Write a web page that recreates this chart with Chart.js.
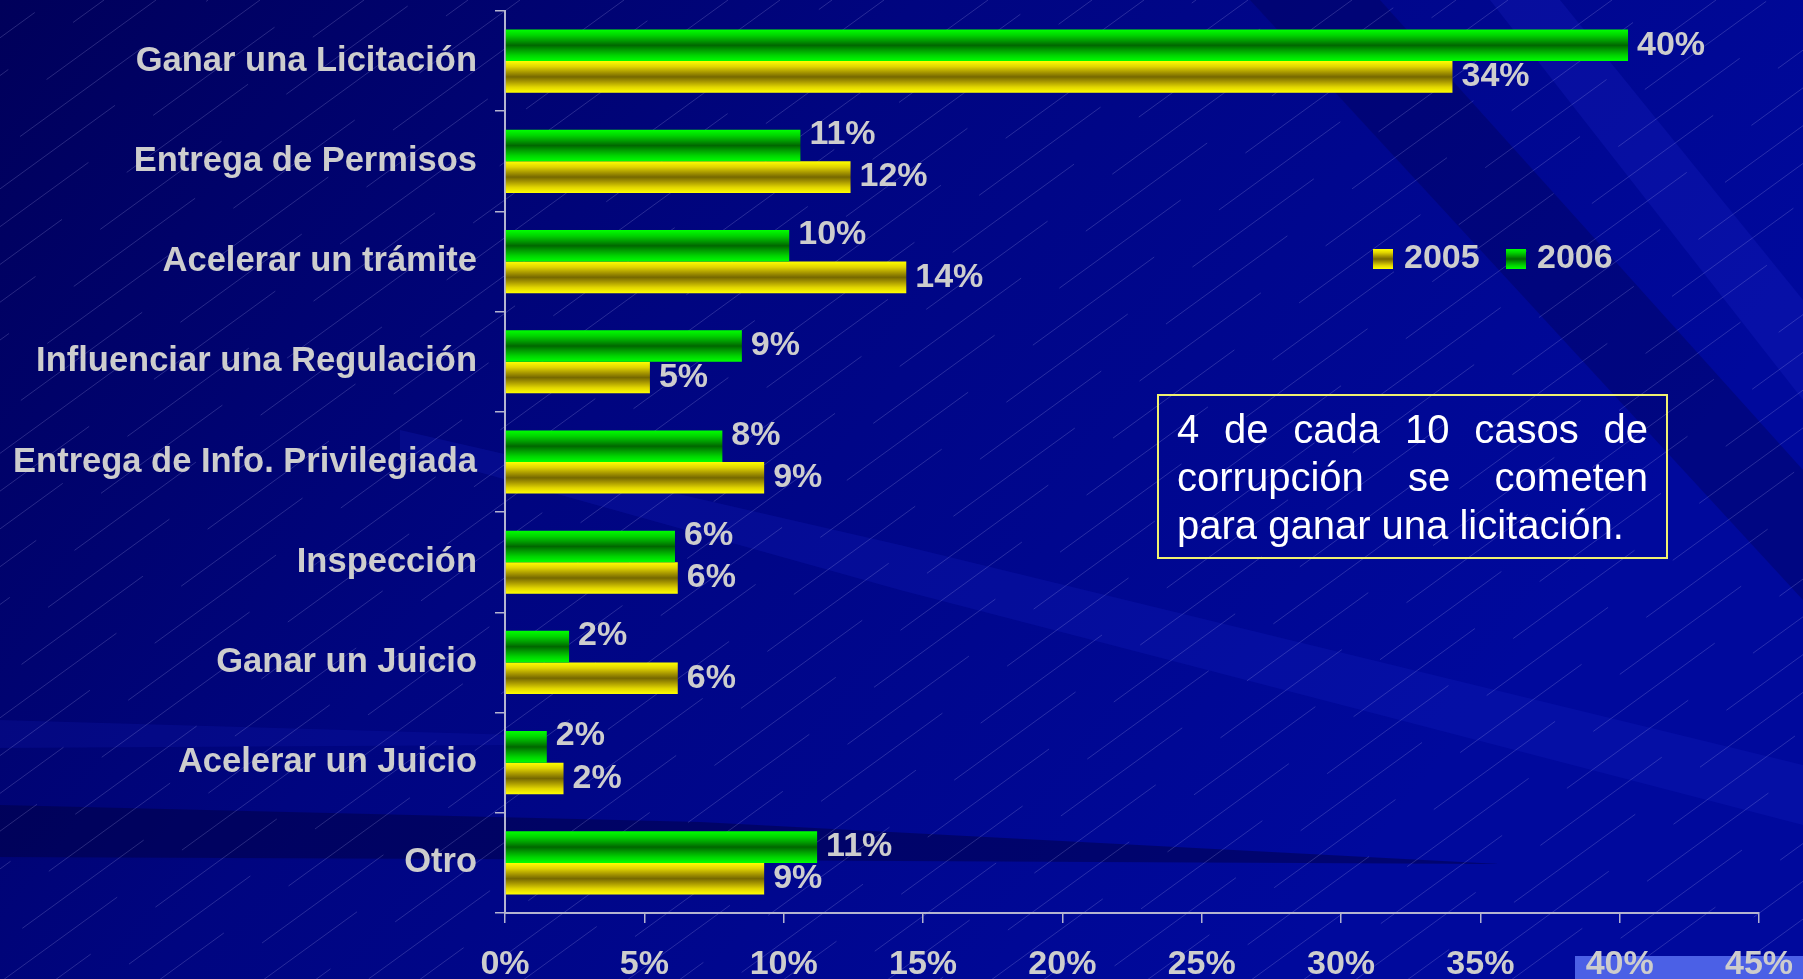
<!DOCTYPE html>
<html lang="es">
<head>
<meta charset="utf-8">
<title>Casos de corrupción 2005 - 2006</title>
<script src="https://cdn.jsdelivr.net/npm/chart.js@4.4.1/dist/chart.umd.min.js"></script>
<style>
  html, body { margin: 0; padding: 0; overflow: hidden; background: #00068a; }
  #wrap { position: relative; width: 1803px; height: 979px; overflow: hidden; }
  #grafico { position: absolute; left: 0; top: 0; }
  #nota {
    position: absolute; left: 1157px; top: 394px;
    box-sizing: border-box; width: 511px; height: 165px;
    padding: 9px 18px; border: 2px solid #f0f070;
    font: 40px/48px "Liberation Sans", Arial, sans-serif;
    color: #ffffff; text-align: justify;
  }
</style>
</head>
<body>
<div id="wrap">
  <canvas id="grafico" width="1803" height="990"></canvas>
  <div id="nota">4 de cada 10 casos de corrupción se cometen para ganar una licitación.</div>
</div>
<script>
const categorias = [
    "Ganar una Licitación",
    "Entrega de Permisos",
    "Acelerar un trámite",
    "Influenciar una Regulación",
    "Entrega de Info. Privilegiada",
    "Inspección",
    "Ganar un Juicio",
    "Acelerar un Juicio",
    "Otro"
];
const valores2006 = [40.3, 10.6, 10.2, 8.5, 7.8, 6.1, 2.3, 1.5, 11.2];
const valores2005 = [34.0, 12.4, 14.4, 5.2, 9.3, 6.2, 6.2, 2.1, 9.3];
const ejeMax = 45;
const ejePaso = 5;

const FUENTE = '"Liberation Sans", Arial, sans-serif';
const TEXTO = "#cdcdcd";
const EJE = "#b4b4d0";
const CAT_PCT = 0.63;

const verdeStops = [[0, "#00ff00"], [0.18, "#00d400"], [0.35, "#009c00"], [0.5, "#006600"], [0.65, "#009c00"], [0.82, "#00d400"], [1, "#00ff00"]];
const amarilloStops = [[0, "#ffff00"], [0.18, "#e0d400"], [0.35, "#a89800"], [0.5, "#766800"], [0.65, "#a89800"], [0.82, "#e0d400"], [1, "#ffff00"]];

function gradiente(ctx, top, alto, stops) {
    const g = ctx.createLinearGradient(0, top, 0, top + alto);
    stops.forEach(s => g.addColorStop(s[0], s[1]));
    return g;
}

// each bar gets its own vertical gradient, like the old PowerPoint fill
function rellenoBarra(stops) {
    return function (context) {
        const chart = context.chart;
        const y = chart.scales.y;
        if (!chart.chartArea || !y) return stops[3][1];
        const grosor = (y.bottom - y.top) / categorias.length * CAT_PCT / 2;
        const centro = y.getPixelForValue(context.dataIndex);
        if (!isFinite(centro)) return stops[3][1];
        const top = context.datasetIndex === 0 ? centro - grosor : centro;
        return gradiente(chart.ctx, top, grosor, stops);
    };
}

const fondo = {
    id: "fondo",
    beforeDraw(chart) {
        const ctx = chart.ctx, w = chart.width, h = chart.height;
        ctx.save();
        const g = ctx.createLinearGradient(0, 0, w * 0.7, h);
        g.addColorStop(0, "#00005a");
        g.addColorStop(0.45, "#000580");
        g.addColorStop(1, "#00099c");
        ctx.fillStyle = g;
        ctx.fillRect(0, 0, w, h);

        const banda = (pts, color) => {
            ctx.beginPath();
            ctx.moveTo(pts[0][0], pts[0][1]);
            pts.slice(1).forEach(p => ctx.lineTo(p[0], p[1]));
            ctx.closePath();
            ctx.fillStyle = color;
            ctx.fill();
        };
        banda([[400, 430], [900, 545], [1803, 765], [1803, 825], [900, 590], [400, 450]], "rgba(25,35,200,0.22)");
        banda([[1250, 0], [1380, 0], [1803, 470], [1803, 600]], "rgba(0,0,70,0.3)");
        banda([[1490, 0], [1560, 0], [1803, 300], [1803, 400]], "rgba(30,40,210,0.22)");
        banda([[0, 805], [700, 822], [1500, 864], [700, 860], [0, 857]], "rgba(0,0,60,0.45)");
        banda([[0, 720], [520, 735], [520, 745], [0, 748]], "rgba(20,30,190,0.2)");

        // thin diagonal hairlines
        ctx.strokeStyle = "rgba(200,200,255,0.2)";
        ctx.lineWidth = 1;
        ctx.setLineDash([150, 80]);
        const dx = h / Math.tan(36 * Math.PI / 180);
        for (let c = -dx, k = 0; c < w; c += 52, k++) {
            ctx.lineDashOffset = (k * 97) % 230;
            ctx.beginPath();
            ctx.moveTo(c, h);
            ctx.lineTo(c + dx, 0);
            ctx.stroke();
        }
        ctx.setLineDash([]);

        ctx.fillStyle = "#4b60e6";
        ctx.fillRect(1575, 956, w - 1575, h - 956);
        ctx.restore();
    }
};

const etiquetas = {
    id: "etiquetas",
    afterDatasetsDraw(chart) {
        const ctx = chart.ctx;
        ctx.save();
        ctx.font = "bold 34px " + FUENTE;
        ctx.fillStyle = TEXTO;
        ctx.textAlign = "left";
        ctx.textBaseline = "middle";
        chart.data.datasets.forEach((ds, i) => {
            chart.getDatasetMeta(i).data.forEach((bar, j) => {
                let dy = 0;
                if (i === 0 && valores2006[j] < valores2005[j]) dy = -11;
                ctx.fillText(Math.round(ds.data[j]) + "%", bar.x + 9, bar.y + dy);
            });
        });
        ctx.restore();
    }
};

const leyenda = {
    id: "leyenda",
    afterDraw(chart) {
        const ctx = chart.ctx;
        const stops = { "2005": amarilloStops, "2006": verdeStops };
        ctx.save();
        ctx.font = "bold 34px " + FUENTE;
        ctx.textAlign = "left";
        ctx.textBaseline = "middle";
        let x = 1373;
        const y = 249;
        [1, 0].forEach(i => {
            const ds = chart.data.datasets[i];
            ctx.fillStyle = gradiente(ctx, y, 20, stops[ds.label]);
            ctx.fillRect(x, y, 20, 20);
            ctx.fillStyle = TEXTO;
            ctx.fillText(ds.label, x + 31, y + 10);
            x += 133;
        });
        ctx.restore();
    }
};

new Chart(document.getElementById("grafico"), {
    type: "bar",
    data: {
        labels: categorias,
        datasets: [
            { label: "2006", data: valores2006, backgroundColor: rellenoBarra(verdeStops), borderWidth: 0 },
            { label: "2005", data: valores2005, backgroundColor: rellenoBarra(amarilloStops), borderWidth: 0 }
        ]
    },
    options: {
        indexAxis: "y",
        responsive: false,
        animation: false,
        events: [],
        layout: { padding: { top: 11, right: 44, bottom: 0, left: 0 } },
        datasets: { bar: { categoryPercentage: CAT_PCT, barPercentage: 1 } },
        plugins: {
            legend: { display: false },
            tooltip: { enabled: false }
        },
        scales: {
            x: {
                min: 0,
                max: ejeMax,
                ticks: {
                    stepSize: ejePaso,
                    color: TEXTO,
                    font: { family: FUENTE, size: 34, weight: "bold" },
                    padding: 21,
                    maxRotation: 0,
                    autoSkip: false,
                    callback: v => v + "%"
                },
                grid: { drawOnChartArea: false, tickLength: 10, color: EJE, lineWidth: 1.5 },
                border: { color: EJE, width: 2 },
                afterFit: s => { s.height = 77; s.paddingLeft = 0; s.paddingRight = 0; }
            },
            y: {
                ticks: {
                    color: TEXTO,
                    font: { family: FUENTE, size: 34.5, weight: "bold" },
                    padding: 18,
                    autoSkip: false
                },
                grid: { offset: true, drawOnChartArea: false, tickLength: 10, color: EJE, lineWidth: 1.5 },
                border: { color: EJE, width: 2 },
                afterFit: s => { s.width = 505; s.paddingTop = 0; s.paddingBottom = 0; }
            }
        }
    },
    plugins: [fondo, etiquetas, leyenda]
});
</script>
</body>
</html>
